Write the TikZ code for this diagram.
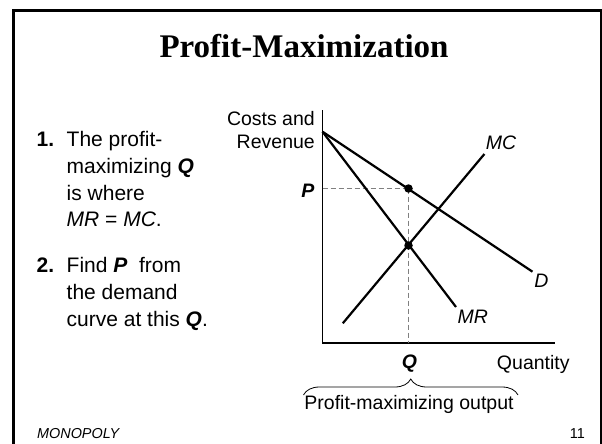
\documentclass[tikz,border=0pt]{standalone}
\usepackage{fontspec}
\setmainfont{Liberation Sans}
\newfontfamily\titlefont{Liberation Serif}
\usetikzlibrary{decorations.pathreplacing}

\tikzset{
  curve/.style={line width=2.2pt},
  axis/.style={line width=1.4pt},
  guide/.style={gray, line width=0.9pt, dash pattern=on 5pt off 3pt},
  dot/.style={circle, fill=black, inner sep=0pt, minimum size=8.5pt},
  lbl/.style={font=\fontsize{19.5}{23.2}\selectfont, inner sep=0pt},
  item/.style={font=\fontsize{21}{26.8}\selectfont, inner sep=0pt, align=left},
  foot/.style={font=\fontsize{14.4}{17}\selectfont, inner sep=0pt},
}

\begin{document}
\begin{tikzpicture}[x=1pt, y=-1pt]
\useasboundingbox (0,0) rectangle (602,444);
% slide frame
\draw[line width=2.5pt] (13.5,450) -- (13.5,10.5) -- (600.8,10.5) -- (600.8,450);

\node[font=\titlefont\bfseries\fontsize{33}{40}\selectfont, inner sep=0pt, anchor=base] (title) at (304,57.5) {Profit-Maximization};

% the two steps (base anchor = last line)
\node[item, font=\bfseries\fontsize{21}{26.8}\selectfont, anchor=base west] (n1) at (36.5,146.5) {1.};
\node[item, anchor=base west] (t1) at (66.5,226.9) {The profit-\\maximizing \textbf{\textit{Q}}\\is where\\\textit{MR} = \textit{MC}.};
\node[item, font=\bfseries\fontsize{21}{26.8}\selectfont, anchor=base west] (n2) at (36.5,272.5) {2.};
\node[item, anchor=base west] (t2) at (66.5,326.1) {Find \textbf{\textit{P}}~ from\\the demand\\curve at this \textbf{\textit{Q}}.};

% axes
\coordinate (O) at (322.5,343);
\coordinate (ytop) at (322.5,110);
\coordinate (xend) at (555,343);
\draw[axis] (ytop) -- (O) -- (xend);

% curves
\coordinate (Dtop) at (322.5,131.7);
\coordinate (Dend) at (532.5,271.7);
\coordinate (MRend) at (456,307);
\coordinate (MCbot) at (342.8,323.3);
\coordinate (MCtop) at (484.4,154);
\coordinate (E) at (408.5,245.5);
\coordinate (A) at (408.5,188.5);
\coordinate (Paxis) at (322.5,188.5);
\coordinate (Qaxis) at (408.5,343);

\draw[guide] (Paxis) -- (A);
\draw[guide] (A) -- (Qaxis);
\draw[curve] (Dtop) -- (Dend);
\draw[curve] (Dtop) -- (MRend);
\draw[curve] (MCbot) -- (MCtop);
\node[dot] (pE) at (E) {};
\node[dot] (pA) at (A) {};

% labels
\node[lbl, align=right, anchor=base east] (costs) at (315,148.7) {Costs and\\Revenue};
\node[lbl, anchor=base] (lMC) at (501,149.7) {\textit{MC}};
\node[lbl, anchor=base] (lD) at (541.5,287) {\textit{D}};
\node[lbl, anchor=base] (lMR) at (472.7,323.7) {\textit{MR}};
\node[lbl, anchor=base] (lP) at (308,197) {\textbf{\textit{P}}};
\node[lbl, anchor=base] (lQ) at (409.5,368) {\textbf{\textit{Q}}};
\node[lbl, anchor=base] (qty) at (533.3,369) {Quantity};

\coordinate (bl) at (303.5,395);
\coordinate (br) at (518,395);
\draw[decorate, decoration={brace, amplitude=16pt}, line width=0.8pt] (bl) -- (br);
\node[lbl, anchor=base] (out) at (409,409.5) {Profit-maximizing output};

\node[foot, font=\itshape\fontsize{14.4}{17}\selectfont, anchor=base west] (mono) at (37,438) {MONOPOLY};
\node[foot, anchor=base east] (page) at (585,438) {11};
\end{tikzpicture}
\end{document}
